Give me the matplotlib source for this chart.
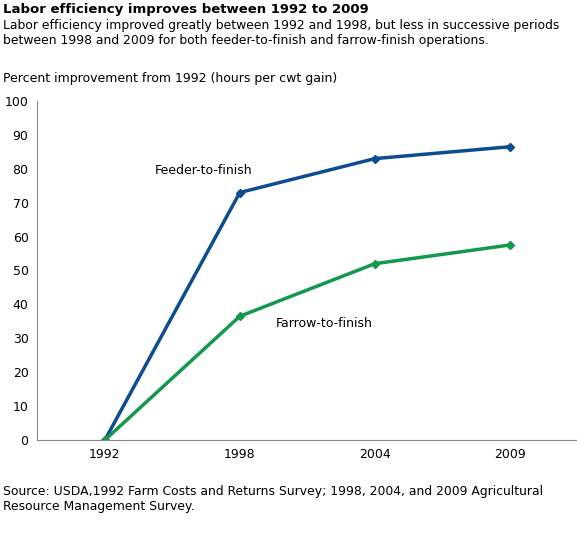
import matplotlib
matplotlib.use("Agg")
import matplotlib.pyplot as plt

years = ["1992", "1998", "2004", "2009"]
feeder = [0, 73, 83, 86.5]
farrow = [0, 36.5, 52, 57.5]

fig = plt.figure(figsize=(5.77, 5.33), dpi=100)
ax = fig.add_axes([0.064, 0.1745, 0.936, 0.636])
x = range(len(years))
ax.plot(x, feeder, color="#0b4d8f", lw=2.5, marker="D", ms=4)
ax.plot(x, farrow, color="#13994a", lw=2.5, marker="D", ms=4)
ax.set_xlim(-0.504, 3.5)
ax.set_ylim(0, 100)
ax.set_yticks(range(0, 101, 10))
ax.set_xticks(list(x))
ax.set_xticklabels(years)
ax.tick_params(labelsize=9, length=0, pad=6)
for s in ["top", "right"]:
    ax.spines[s].set_visible(False)
ax.spines["left"].set_color("#888888")
ax.spines["bottom"].set_color("#888888")
ax.text(0.73, 79.5, "Feeder-to-finish", fontsize=9, ha="center", va="center")
ax.text(1.27, 34.5, "Farrow-to-finish", fontsize=9, va="center")

fig.text(0.005, 0.995, "Labor efficiency improves between 1992 to 2009", fontsize=9.5, weight="bold", va="top")
fig.text(0.005, 0.965, "Labor efficiency improved greatly between 1992 and 1998, but less in successive periods\nbetween 1998 and 2009 for both feeder-to-finish and farrow-finish operations.", fontsize=8.9, va="top", linespacing=1.2)
fig.text(0.005, 0.865, "Percent improvement from 1992 (hours per cwt gain)", fontsize=9, va="top")
fig.text(0.005, 0.09, "Source: USDA,1992 Farm Costs and Returns Survey; 1998, 2004, and 2009 Agricultural\nResource Management Survey.", fontsize=8.9, va="top", linespacing=1.2)
fig.savefig("out.png")
